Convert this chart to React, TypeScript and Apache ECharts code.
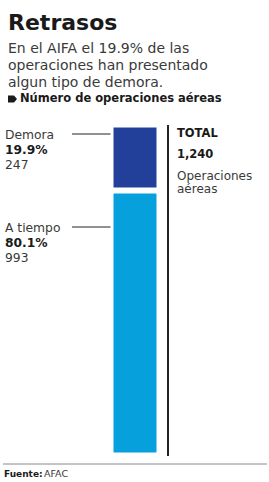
import React, { useEffect, useRef } from "react";
import * as echarts from "echarts";

const categories = ["Demora", "A tiempo"];
const values = [247, 993];
const colors = ["#22409a", "#06a0dc"];
const titleText = "Retrasos";
const subtitleLines = [
  "En el AIFA el 19.9% de las",
  "operaciones han presentado",
  "algun tipo de demora.",
];
const headingText = "Número de operaciones aéreas";
const totalLabel = "TOTAL";
const totalUnitLines = ["Operaciones", "aéreas"];
const sourceBold = "Fuente:";
const sourceText = "AFAC";

const FONT = "'DejaVu Sans', sans-serif";
const MID = 0.35;

export default function App() {
  const ref = useRef<HTMLDivElement>(null);
  useEffect(() => {
    if (!ref.current) return;
    const chart = echarts.init(ref.current, null, { renderer: "svg" });
    const total = values.reduce((a, b) => a + b, 0);
    const pct = values.map((v) => ((v / total) * 100).toFixed(1) + "%");
    const bw = 3;
    chart.setOption({
      animation: false,
      grid: { left: 112 - bw / 2, right: 269 - 158 - bw / 2, top: 126 - bw / 2, bottom: 482 - 454 - bw / 2 },
      xAxis: { type: "category", data: ["ops"], show: false },
      yAxis: { type: "value", min: 0, max: total, show: false },
      series: [
        {
          type: "bar",
          name: categories[1],
          stack: "a",
          data: [values[1]],
          barWidth: "100%",
          itemStyle: { color: colors[1], borderColor: "#fff", borderWidth: bw },
        },
        {
          type: "bar",
          name: categories[0],
          stack: "a",
          data: [values[0]],
          barWidth: "100%",
          itemStyle: { color: colors[0], borderColor: "#fff", borderWidth: bw },
        },
      ],
    });

    const cx = chart.convertToPixel({ xAxisIndex: 0 }, "ops") as number;
    const txt = (x: number, baseline: number, text: string, fs: number, opts: any = {}) => ({
      type: "text",
      x,
      y: baseline - MID * fs,
      style: {
        text,
        fontFamily: FONT,
        fontSize: fs,
        fontWeight: opts.bold ? "bold" : "normal",
        fill: opts.fill || "#2a2a2a",
        verticalAlign: "middle",
        align: "left",
      },
    });
    const block = (x: number, baseline: number, text: string, fs: number, lh: number, rich: any = {}, fill = "#3a3a3a") => ({
      type: "text",
      x,
      y: baseline - lh / 2 - MID * fs,
      style: {
        text,
        fontFamily: FONT,
        fontSize: fs,
        lineHeight: lh,
        fill,
        verticalAlign: "top",
        align: "left",
        rich,
      },
    });
    const leader = (y: number) => [
      { type: "line", shape: { x1: 72, y1: y, x2: cx, y2: y }, style: { stroke: "#222", lineWidth: 1 } },
      { type: "circle", shape: { cx, cy: y, r: 2.2 }, style: { fill: "#111" } },
    ];
    const labelY = [139, 232];
    const elements: any[] = [
      txt(8, 30, titleText, 22, { bold: true, fill: "#1a1a1a" }),
      block(8, 53, subtitleLines.join("\n"), 14, 17),
      {
        type: "polygon",
        shape: { points: [[8, 95.5], [14, 95.5], [17, 99], [14, 102.5], [8, 102.5]] },
        style: { fill: "#1a1a1a", lineJoin: "round" },
      },
      txt(20, 102.5, headingText, 11.5, { bold: true, fill: "#1a1a1a" }),
      { type: "line", shape: { x1: 168, y1: 125, x2: 168, y2: 456 }, style: { stroke: "#222", lineWidth: 2 } },
      txt(177, 137, totalLabel, 11.5, { bold: true, fill: "#1a1a1a" }),
      txt(177, 158, total.toLocaleString("en-US"), 11.5, { bold: true, fill: "#1a1a1a" }),
      block(177, 180, totalUnitLines.join("\n"), 12, 13.5),
      { type: "line", shape: { x1: 3, y1: 464, x2: 267, y2: 464 }, style: { stroke: "#8a8a8a", lineWidth: 1 } },
      txt(4, 477, sourceBold, 9, { bold: true, fill: "#1a1a1a" }),
      txt(44, 477, sourceText, 9.5, { fill: "#3a3a3a" }),
    ];
    categories.forEach((c, i) => {
      const b = labelY[i];
      const lh = 15;
      const fs = 12.3;
      const rich = {
        r: { fontFamily: FONT, fontSize: fs, lineHeight: lh, fill: "#3a3a3a" },
        b: { fontFamily: FONT, fontSize: fs, lineHeight: lh, fontWeight: "bold", fill: "#1a1a1a" },
      };
      elements.push(block(5, b, `{r|${c}}\n{b|${pct[i]}}\n{r|${values[i]}}`, fs, lh, rich));
      elements.push(...leader(b - 5));
    });
    chart.setOption({ graphic: { elements } });
    return () => chart.dispose();
  }, []);
  return (
    <div
      ref={ref}
      style={{ position: "fixed", left: 0, top: 0, width: 269, height: 482, background: "#fff" }}
    />
  );
}
